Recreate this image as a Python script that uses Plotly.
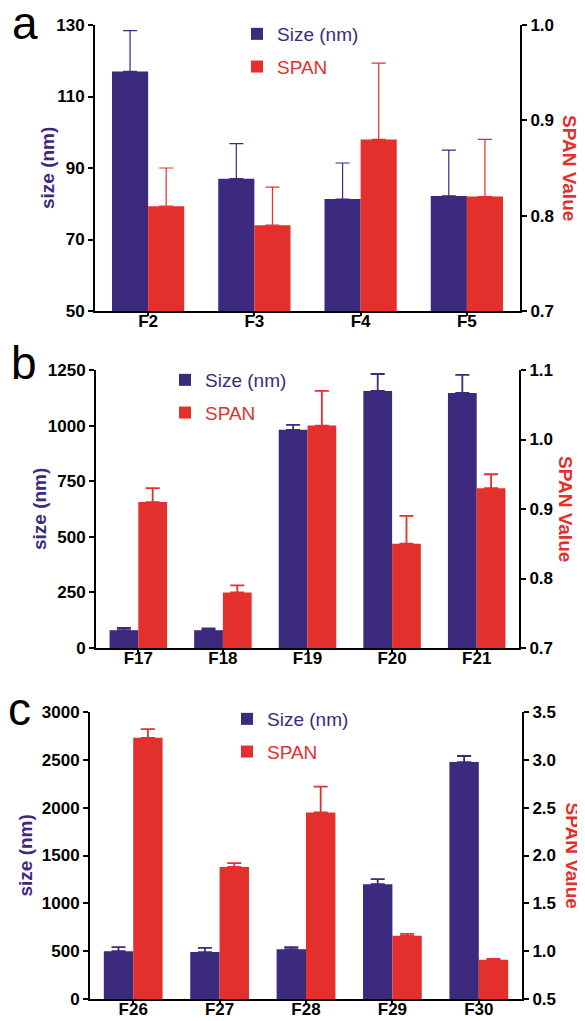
import plotly.graph_objects as go

# The page body has an 8px margin, so the figure is drawn 8px in from the
# window's top-left corner; pixel positions below are window pixels.
OFF = 8
W, H = 585 - OFF, 1021 - OFF
BLUE = "#3b2a7e"
RED = "#e4302d"
FONT = "Liberation Sans, Arial, sans-serif"

# ---- data ----
cats_a = ["F2", "F3", "F4", "F5"]
size_a = [117, 87, 81.3, 82.2]
size_err_a = [11.4, 9.8, 10.1, 12.8]
span_a = [0.81, 0.79, 0.88, 0.82]
span_err_a = [0.04, 0.04, 0.08, 0.06]

cats_b = ["F17", "F18", "F19", "F20", "F21"]
size_b = [80, 80, 981, 1156, 1147]
size_err_b = [10, 8, 22, 76, 81]
span_b = [0.91, 0.78, 1.02, 0.85, 0.93]
span_err_b = [0.02, 0.01, 0.05, 0.04, 0.02]

cats_c = ["F26", "F27", "F28", "F29", "F30"]
size_c = [500, 490, 520, 1200, 2477]
size_err_c = [43, 45, 23, 54, 63]
span_c = [3.23, 1.88, 2.45, 1.16, 0.91]
span_err_c = [0.09, 0.04, 0.27, 0.02, 0.01]


def px(x):
    return (x - OFF) / W


def py(y):
    return 1 - (y - OFF) / H


panels = [
    dict(cats=cats_a, size=size_a, size_err=size_err_a, span=span_a, span_err=span_err_a,
         xpx=(95, 520), ypx=(25, 311), yl=[50, 130], yl_d=20, yr=[0.7, 1.0], yr_d=0.1,
         letter="a", letter_pos=(11, -4), leg=(237, 15), errw=1.2, ttl_l=47, ttl_r=570),
    dict(cats=cats_b, size=size_b, size_err=size_err_b, span=span_b, span_err=span_err_b,
         xpx=(96, 519), ypx=(370, 648), yl=[0, 1250], yl_d=250, yr=[0.7, 1.1], yr_d=0.1,
         letter="b", letter_pos=(10, 336), leg=(165, 361), errw=1.8, ttl_l=40, ttl_r=565),
    dict(cats=cats_c, size=size_c, size_err=size_err_c, span=span_c, span_err=span_err_c,
         xpx=(90, 522), ypx=(712, 999), yl=[0, 3000], yl_d=500, yr=[0.5, 3.5], yr_d=0.5,
         letter="c", letter_pos=(7, 682), leg=(227, 700), errw=1.8, ttl_l=25, ttl_r=572),
]

fig = go.Figure()
layout = dict(
    width=W, height=H, margin=dict(l=0, r=0, t=0, b=0),
    paper_bgcolor="white", plot_bgcolor="white",
    font=dict(family=FONT, color="black"),
    showlegend=True, annotations=[],
)

tickfont = dict(family=FONT, size=17, color="black", weight="bold")

for i, p in enumerate(panels):
    xn = "x" if i == 0 else f"x{i+1}"
    yln = "y" if i == 0 else f"y{2*i+1}"
    yrn = f"y{2*i+2}"
    xkey = "xaxis" if i == 0 else f"xaxis{i+1}"
    ylkey = "yaxis" if i == 0 else f"yaxis{2*i+1}"
    yrkey = f"yaxis{2*i+2}"
    legkey = "legend" if i == 0 else f"legend{i+1}"

    xd = [px(p["xpx"][0]), px(p["xpx"][1])]
    yd = [py(p["ypx"][1]), py(p["ypx"][0])]
    ymid = py((p["ypx"][0] + p["ypx"][1]) / 2)

    fig.add_trace(go.Bar(
        x=p["cats"], y=p["size"], xaxis=xn, yaxis=yln,
        width=0.34, offset=-0.34, marker=dict(color=BLUE, line=dict(width=0)),
        error_y=dict(type="data", symmetric=False, array=p["size_err"],
                     arrayminus=[0] * len(p["cats"]), color=BLUE,
                     thickness=p["errw"], width=7),
        name=f"<span style='color:{BLUE}'>Size (nm)</span>",
        legend=legkey, legendgroup=f"s{i}",
    ))
    fig.add_trace(go.Bar(
        x=p["cats"], y=p["span"], xaxis=xn, yaxis=yrn,
        width=0.34, offset=0, marker=dict(color=RED, line=dict(width=0)),
        error_y=dict(type="data", symmetric=False, array=p["span_err"],
                     arrayminus=[0] * len(p["cats"]), color=RED,
                     thickness=p["errw"], width=7),
        name=f"<span style='color:{RED}'>SPAN</span>",
        legend=legkey, legendgroup=f"p{i}",
    ))

    layout[xkey] = dict(
        domain=xd, anchor=yln, range=[-0.5, len(p["cats"]) - 0.5],
        showline=True, linecolor="black", linewidth=2,
        ticks="outside", ticklen=3, tickwidth=2, tickcolor="black",
        tickfont=tickfont, showgrid=False, zeroline=False, automargin=False,
        ticklabelstandoff=-9,
    )
    lvals = []
    v = p["yl"][0]
    while v <= p["yl"][1] + 1e-9:
        lvals.append(v)
        v += p["yl_d"]
    rvals = []
    v = p["yr"][0]
    while v <= p["yr"][1] + 1e-9:
        rvals.append(round(v, 2))
        v += p["yr_d"]
    layout[ylkey] = dict(
        domain=yd, anchor=xn, range=p["yl"],
        tickmode="array", tickvals=lvals,
        showline=True, linecolor="black", linewidth=2,
        ticks="outside", ticklen=5, tickwidth=2, tickcolor="black",
        tickfont=tickfont, showgrid=False, zeroline=False, automargin=False,
    )
    layout[yrkey] = dict(
        domain=yd, anchor=xn, overlaying=yln, side="right", range=p["yr"],
        tickmode="array", tickvals=rvals, tickformat=".1f",
        showline=True, linecolor="black", linewidth=2,
        ticks="outside", ticklen=5, tickwidth=2, tickcolor="black",
        tickfont=tickfont, showgrid=False, zeroline=False, automargin=False,
    )
    layout[legkey] = dict(
        x=px(p["leg"][0]), y=py(p["leg"][1]), xanchor="left", yanchor="top",
        bgcolor="rgba(0,0,0,0)", borderwidth=0, traceorder="grouped",
        font=dict(size=19, family=FONT),
        tracegroupgap=5, itemwidth=30,
    )
    layout["annotations"].append(dict(
        text=p["letter"], xref="paper", yref="paper",
        x=px(p["letter_pos"][0]), y=py(p["letter_pos"][1]),
        xanchor="left", yanchor="top", showarrow=False, borderpad=0,
        font=dict(size=46, color="black", family=FONT),
    ))
    layout["annotations"].append(dict(
        text="size (nm)", xref="paper", yref="paper",
        x=px(p["ttl_l"]), y=ymid, xanchor="center", yanchor="middle",
        textangle=-90, showarrow=False, borderpad=0,
        font=dict(size=19, color=BLUE, family=FONT, weight="bold"),
    ))
    layout["annotations"].append(dict(
        text="SPAN Value", xref="paper", yref="paper",
        x=px(p["ttl_r"]), y=ymid, xanchor="center", yanchor="middle",
        textangle=90, showarrow=False, borderpad=0,
        font=dict(size=19, color=RED, family=FONT, weight="bold"),
    ))

fig.update_layout(**layout)
fig.write_html("out.html")
